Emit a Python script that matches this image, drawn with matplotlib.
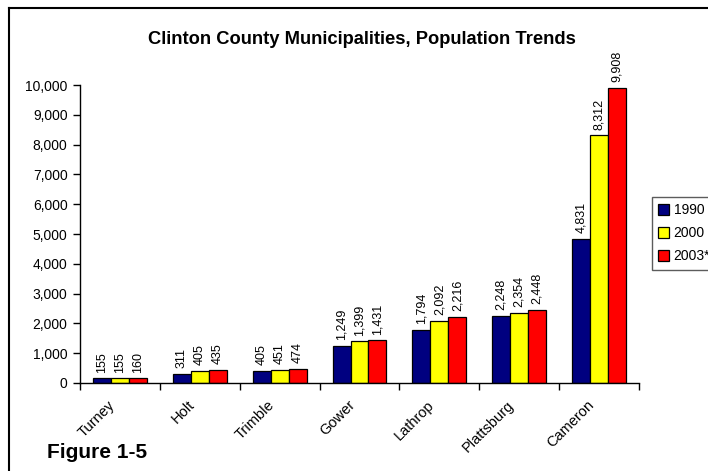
import matplotlib
matplotlib.use("Agg")
import matplotlib.pyplot as plt
import matplotlib.transforms as mtransforms
import numpy as np
from matplotlib.lines import Line2D
from matplotlib.ticker import FuncFormatter

plt.rcParams['font.family'] = ['Liberation Sans', 'DejaVu Sans']

categories = ["Turney", "Holt", "Trimble", "Gower", "Lathrop", "Plattsburg", "Cameron"]
series_names = ["1990", "2000", "2003*"]
pop_1990 = [155, 311, 405, 1249, 1794, 2248, 4831]
pop_2000 = [155, 405, 451, 1399, 2092, 2354, 8312]
pop_2003 = [160, 435, 474, 1431, 2216, 2448, 9908]
colors = ["#000080", "#FFFF00", "#FF0000"]

fig = plt.figure(figsize=(7.08, 4.71), dpi=100)
W, H = 708, 471
ax = fig.add_axes([80 / W, 1 - 383 / H, (639 - 80) / W, (383 - 85) / H])

x = np.arange(len(categories)) + 0.5
bw = 0.225
series = [pop_1990, pop_2000, pop_2003]
for i, (vals, name, c) in enumerate(zip(series, series_names, colors)):
    pos = x + (i - 1) * bw
    ax.bar(pos, vals, width=bw, color=c, edgecolor="black", linewidth=0.9, label=name)
    for xb, v in zip(pos, vals):
        ax.annotate(f"{v:,}", (xb, v), xytext=(0, 4), textcoords="offset points",
                    rotation=90, ha="center", va="bottom", fontsize=9, annotation_clip=False)

ax.set_xlim(0, len(categories))
ax.set_ylim(0, 10000)
ax.set_yticks(np.arange(0, 10001, 1000))
ax.yaxis.set_major_formatter(FuncFormatter(lambda v, p: f"{int(v):,}"))
ax.set_xticks(np.arange(0, len(categories) + 1))
ax.set_xticklabels([])

shift = mtransforms.ScaledTranslation(-12 / 100, -15 / 100, fig.dpi_scale_trans)
lab_tr = ax.get_xaxis_transform() + shift
for xc, name in zip(x, categories):
    ax.text(xc, 0, name, transform=lab_tr, rotation=45, ha="right", va="top",
            rotation_mode="anchor", fontsize=10.5, clip_on=False)

ax.tick_params(axis="x", length=5, direction="out", width=1)
ax.tick_params(axis="y", length=5, direction="out", width=1, labelsize=10, pad=4)
for s in ["top", "right"]:
    ax.spines[s].set_visible(False)
for s in ["left", "bottom"]:
    ax.spines[s].set_linewidth(1)

fig.text(362 / W, 1 - 40 / H, "Clinton County Municipalities, Population Trends",
         ha="center", va="center", fontsize=13.2, fontweight="bold")
fig.text(47 / W, 1 - 452 / H, "Figure 1-5", ha="left", va="center", fontsize=15, fontweight="bold")

leg = ax.legend(loc="upper left", bbox_to_anchor=(652 / W, 1 - 197 / H), bbox_transform=fig.transFigure,
                fontsize=10, frameon=True, fancybox=False, handlelength=0.8, handleheight=0.8,
                handletextpad=0.3, borderpad=0.45, labelspacing=0.65, borderaxespad=0)
leg.get_frame().set_edgecolor("#333333")
leg.get_frame().set_linewidth(1)

fig.add_artist(Line2D([9 / W, 9 / W], [0, 1 - 8 / H], color="black", lw=1.5, transform=fig.transFigure))
fig.add_artist(Line2D([9 / W, 1], [1 - 8 / H, 1 - 8 / H], color="black", lw=1.5, transform=fig.transFigure))

fig.savefig("out.png", dpi=100)
